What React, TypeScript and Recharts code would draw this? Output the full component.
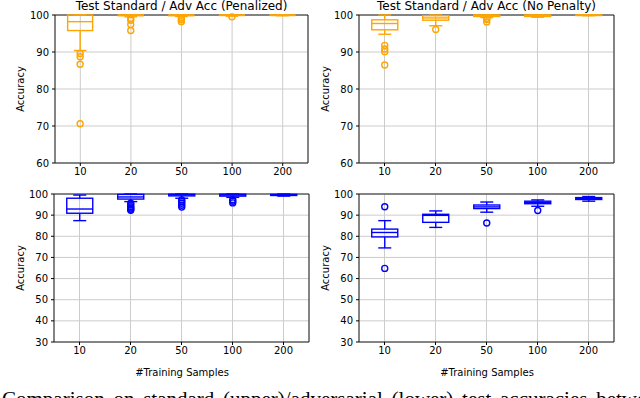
import React from 'react';
import { ComposedChart, Bar, XAxis, YAxis, CartesianGrid, ReferenceArea } from 'recharts';

// training sample counts on the x axis
const categories = ['10', '20', '50', '100', '200'];
const topTicks = [60, 70, 80, 90, 100];
const bottomTicks = [30, 40, 50, 60, 70, 80, 90, 100];

// box stats per category: [lowWhisker, q1, median, q3, highWhisker]
const penalizedStd = [
  [90.4, 95.8, 98.2, 100, 100],
  [99.5, 99.8, 100, 100, 100],
  [99.6, 99.8, 100, 100, 100],
  [99.7, 99.9, 100, 100, 100],
  [99.8, 99.9, 100, 100, 100],
];
const penalizedStdOutliers = [[89.6, 88.7, 86.7, 70.6], [99.1, 98.6, 97.4, 95.8], [99.2, 98.7, 98.2], [99.5], []];

const noPenaltyStd = [
  [94.8, 96.0, 97.7, 98.7, 100],
  [97.1, 98.6, 99.2, 99.8, 100],
  [99.3, 99.6, 99.9, 100, 100],
  [99.4, 99.6, 99.9, 100, 100],
  [99.8, 99.9, 100, 100, 100],
];
const noPenaltyStdOutliers = [[91.8, 90.8, 90.1, 86.5], [96.1], [99.1, 98.8, 98.1], [], []];

const penalizedAdv = [
  [87.4, 90.9, 92.9, 98.0, 99.5],
  [96.4, 97.6, 98.6, 99.8, 100],
  [98.0, 99.1, 99.6, 99.9, 100],
  [98.4, 99.0, 99.5, 99.9, 100],
  [99.0, 99.3, 99.6, 99.8, 100],
];
const penalizedAdvOutliers = [[], [95.6, 94.8, 94.0, 93.4, 92.8, 92.3], [97.2, 96.4, 95.6, 94.7, 93.8], [97.3, 96.6, 95.8], []];

const noPenaltyAdv = [
  [74.5, 79.7, 81.8, 83.4, 87.4],
  [84.2, 86.6, 89.9, 90.4, 92.0],
  [91.4, 93.1, 93.9, 94.8, 96.2],
  [94.2, 95.4, 96.0, 96.6, 97.2],
  [96.6, 97.4, 97.9, 98.3, 98.8],
];
const noPenaltyAdvOutliers = [[94.0, 64.8], [], [86.3], [92.2], []];

const ORANGE = '#FFA500';
const BLUE = '#0000FF';
const FONT = '"DejaVu Sans", sans-serif';

function BoxShape(props: any) {
  const { x, y, width, height, payload, color } = props;
  const [lo, q1, med, q3, hi] = payload.stats;
  const top = Math.min(y, y + height);
  const bottom = Math.max(y, y + height);
  // map a value using the pixel span recharts gave to [lo, hi]
  const toY = (v: number) => top + ((hi - v) / (hi - lo)) * (bottom - top);
  const cx = x + width / 2;
  const cap = width / 4;
  const s = { stroke: color, strokeWidth: 1.4, fill: 'none' };
  return (
    <g>
      <line x1={cx} x2={cx} y1={toY(hi)} y2={toY(q3)} {...s} />
      <line x1={cx} x2={cx} y1={toY(q1)} y2={toY(lo)} {...s} />
      <line x1={cx - cap} x2={cx + cap} y1={toY(hi)} y2={toY(hi)} {...s} />
      <line x1={cx - cap} x2={cx + cap} y1={toY(lo)} y2={toY(lo)} {...s} />
      <rect x={x} y={toY(q3)} width={width} height={Math.max(toY(q1) - toY(q3), 0.5)} {...s} />
      <line x1={x} x2={x + width} y1={toY(med)} y2={toY(med)} {...s} />
      {payload.outliers.map((v: number, i: number) => (
        <circle key={i} cx={cx} cy={toY(v)} r={3} {...s} />
      ))}
    </g>
  );
}

interface PanelProps {
  left: number;
  top: number;
  height: number;
  margin: { top: number; right: number; left: number; bottom: number };
  stats: number[][];
  outliers: number[][];
  color: string;
  ticks: number[];
}

function Panel({ left, top, height, margin, stats, outliers, color, ticks }: PanelProps) {
  const data = categories.map((cat, i) => ({ cat, stats: stats[i], outliers: outliers[i] }));
  const lo = ticks[0];
  const hi = ticks[ticks.length - 1];
  return (
    <div style={{ position: 'absolute', left, top }}>
      <ComposedChart width={320} height={height} data={data} margin={margin} barCategoryGap="25%">
        <CartesianGrid stroke="#cccccc" strokeWidth={1} />
        <XAxis
          dataKey="cat"
          axisLine={false}
          tickLine={{ stroke: '#000' }}
          tickSize={3}
          tickMargin={2}
          height={22}
          interval={0}
          tick={{ fill: '#000', fontSize: 10, fontFamily: FONT }}
        />
        <YAxis
          type="number"
          domain={[lo, hi]}
          ticks={ticks}
          axisLine={false}
          tickLine={{ stroke: '#000' }}
          tickSize={3}
          tickMargin={3}
          width={35}
          interval={0}
          tick={{ fill: '#000', fontSize: 10, fontFamily: FONT }}
        />
        <Bar
          dataKey={(d: any) => [d.stats[0], d.stats[4]]}
          isAnimationActive={false}
          shape={(p: any) => <BoxShape {...p} color={color} />}
        />
        <ReferenceArea y1={lo} y2={hi} fill="none" stroke="#222" strokeWidth={1} />
      </ComposedChart>
    </div>
  );
}

const textStyle: React.CSSProperties = {
  position: 'absolute',
  fontFamily: FONT,
  color: '#000',
  whiteSpace: 'nowrap',
  lineHeight: 1,
};

function VLabel({ x, y }: { x: number; y: number }) {
  return (
    <div style={{ ...textStyle, fontSize: 10, left: x, top: y, transform: 'translate(-50%, -50%) rotate(-90deg)' }}>
      Accuracy
    </div>
  );
}

function Centered({ x, y, size, children }: { x: number; y: number; size: number; children: React.ReactNode }) {
  return (
    <div style={{ ...textStyle, fontSize: size, left: x, top: y, transform: 'translate(-50%, -50%)' }}>{children}</div>
  );
}

export default function App() {
  return (
    <div style={{ position: 'absolute', left: 0, top: 0, width: 640, height: 398, overflow: 'hidden', background: '#fff' }}>
      <Panel left={0} top={0} height={185} margin={{ top: 15, right: 12, left: 20, bottom: 0 }}
        stats={penalizedStd} outliers={penalizedStdOutliers} color={ORANGE} ticks={topTicks} />
      <Panel left={320} top={0} height={185} margin={{ top: 15, right: 26, left: 4, bottom: 0 }}
        stats={noPenaltyStd} outliers={noPenaltyStdOutliers} color={ORANGE} ticks={topTicks} />
      <Panel left={0} top={180} height={184} margin={{ top: 14, right: 11, left: 19, bottom: 0 }}
        stats={penalizedAdv} outliers={penalizedAdvOutliers} color={BLUE} ticks={bottomTicks} />
      <Panel left={320} top={180} height={184} margin={{ top: 14, right: 26, left: 4, bottom: 0 }}
        stats={noPenaltyAdv} outliers={noPenaltyAdvOutliers} color={BLUE} ticks={bottomTicks} />

      <Centered x={181.5} y={6} size={12}>Test Standard / Adv Acc (Penalized)</Centered>
      <Centered x={486.5} y={6} size={12}>Test Standard / Adv Acc (No Penalty)</Centered>

      <VLabel x={21} y={89} />
      <VLabel x={326} y={89} />
      <VLabel x={21} y={268} />
      <VLabel x={326} y={268} />

      <Centered x={182} y={373} size={10}>#Training Samples</Centered>
      <Centered x={487} y={373} size={10}>#Training Samples</Centered>

      <div style={{ ...textStyle, fontFamily: '"Liberation Serif", serif', fontSize: 21, left: 2, top: 389, wordSpacing: 3.5 }}>
        Comparison on standard (upper)/adversarial (lower) test accuracies between
      </div>
    </div>
  );
}
